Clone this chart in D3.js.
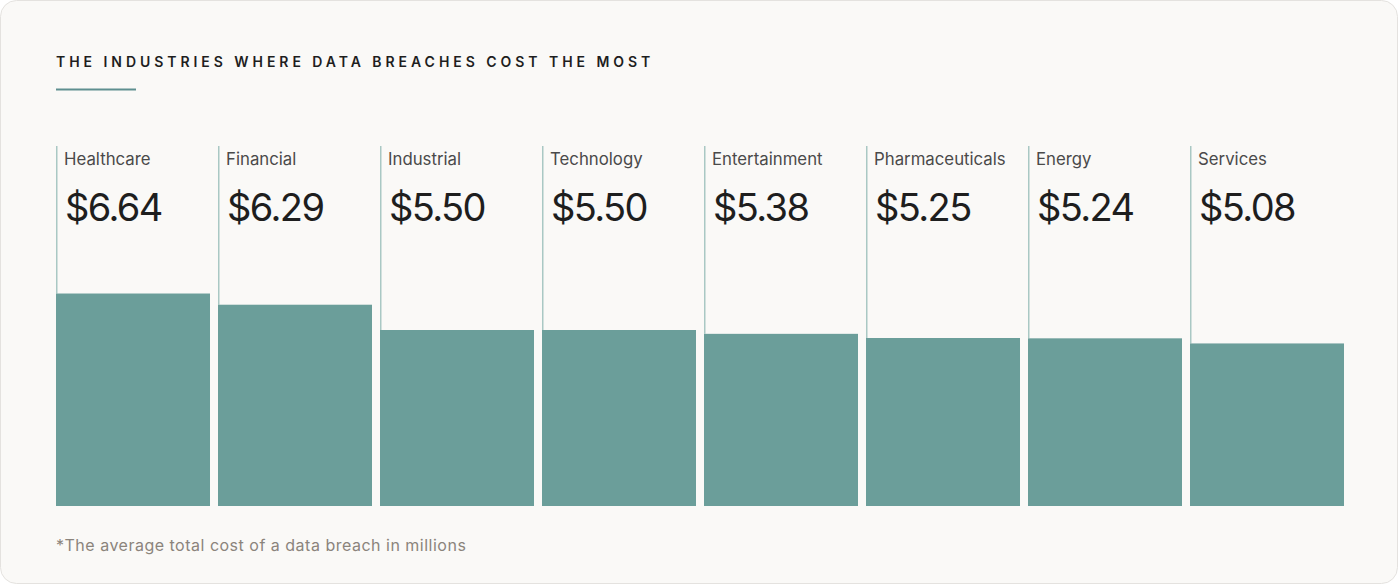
<!DOCTYPE html>
<html><head><meta charset="utf-8">
<script src="https://cdn.jsdelivr.net/npm/d3@7"></script>
<style>
html,body{margin:0;padding:0;background:#ffffff;}
svg{display:block;}
</style></head>
<body>
<script>
const categories = ["Healthcare","Financial","Industrial","Technology","Entertainment","Pharmaceuticals","Energy","Services"];
const values = [6.64, 6.29, 5.50, 5.50, 5.38, 5.25, 5.24, 5.08];
const title = "THE INDUSTRIES WHERE DATA BREACHES COST THE MOST";
const footnote = "*The average total cost of a data breach in millions";

const W = 1400, H = 586;
const svg = d3.select("body").append("svg").attr("width", W).attr("height", H);

svg.append("rect").attr("x",0.5).attr("y",0.5).attr("width",W-3).attr("height",H-3)
  .attr("rx",16).attr("fill","#faf9f7").attr("stroke","#e4e2df").attr("stroke-width",1);

svg.append("text").attr("x",56).attr("y",67).text(title)
  .attr("font-family","Inter, 'Liberation Sans', sans-serif").attr("font-size",14).attr("font-weight",600)
  .attr("letter-spacing","3.95px").attr("fill","#1e1e1e");
svg.append("rect").attr("x",56).attr("y",88.5).attr("width",80).attr("height",2).attr("fill","#5e8f90");

const x = d3.scaleBand().domain(categories).range([56, 1344]).paddingInner(8/162).paddingOuter(0).align(0);
const y = d3.scaleLinear().domain([0, 11.25]).range([506, 146]);

const g = svg.append("g");
const cols = g.selectAll("g.col").data(categories).join("g").attr("class","col");

cols.append("line")
  .attr("x1", d => x(d)+0.75).attr("x2", d => x(d)+0.75)
  .attr("y1", y(11.25)).attr("y2", (d,i) => y(values[i]))
  .attr("stroke","#a9c8c4").attr("stroke-width",1.5);

cols.append("rect")
  .attr("x", d => x(d)).attr("width", x.bandwidth())
  .attr("y", (d,i) => y(values[i])).attr("height", (d,i) => y(0) - y(values[i]))
  .attr("fill","#6b9e9a");

cols.append("text").attr("x", d => x(d)+8).attr("y", 165).text(d => d)
  .attr("font-family","Inter, 'Liberation Sans', sans-serif").attr("font-size",16.8)
  .attr("fill","#4a4a4a");

cols.append("text").attr("x", d => x(d)+9).attr("y", 221).text((d,i) => "$" + values[i].toFixed(2))
  .attr("font-family","Inter, 'Liberation Sans', sans-serif").attr("font-size",38)
  .attr("letter-spacing","-1.6px").attr("fill","#1e1e1e");

svg.append("text").attr("x",56).attr("y",551).text(footnote)
  .attr("font-family","Inter, 'Liberation Sans', sans-serif").attr("font-size",16)
  .attr("letter-spacing","0.5px").attr("fill","#8b847c");
</script>
</body></html>
